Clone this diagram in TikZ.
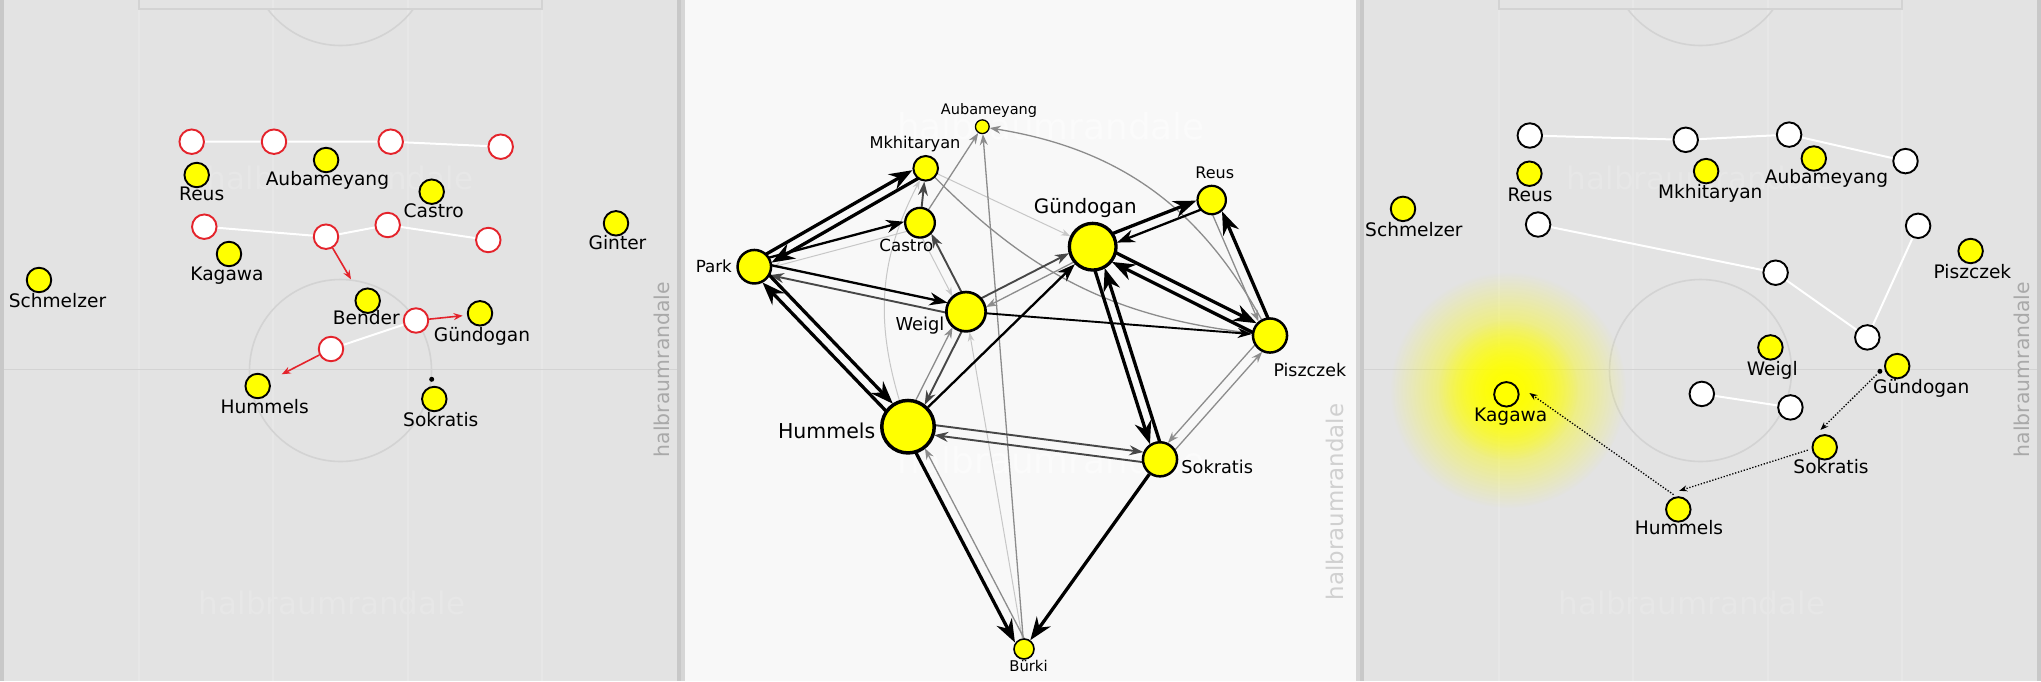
\documentclass[tikz,border=0pt]{standalone}
\usepackage{fontspec}
\setmainfont{DejaVu Sans}
\usetikzlibrary{arrows.meta,calc,fadings}

\definecolor{pitch}{HTML}{E3E3E3}
\definecolor{pitchhi}{HTML}{E7E7E7}
\definecolor{paper}{HTML}{F8F8F8}
\definecolor{rim}{HTML}{C8C8C8}
\definecolor{rimlight}{HTML}{D6D6D6}
\definecolor{chalk}{HTML}{D3D3D3}
\definecolor{stamp}{HTML}{A9A9A9}
\definecolor{stamplight}{HTML}{D0D0D0}
\definecolor{foered}{HTML}{E4232B}
\definecolor{dotyellow}{HTML}{FFFF00}

\newcommand\fsz[1]{\fontsize{#1}{#1}\selectfont}

\pgfdeclarelayer{ground}
\pgfdeclarelayer{links}
\pgfsetlayers{ground,links,main}

\tikzfading[name=glowfade, inner color=transparent!0, outer color=transparent!100]

\tikzset{
  dot/.style={circle, draw=black, fill=dotyellow, line width=1.9pt, minimum size=24.5pt, inner sep=0pt},
  foe/.style={circle, draw=foered, fill=white, line width=1.9pt, minimum size=24.5pt, inner sep=0pt},
  foeb/.style={foe, draw=black},
  ball/.style={circle, fill=black, minimum size=5pt, inner sep=0pt},
  tag/.style={inner sep=0pt, font=\fsz{18.6}, text height=0.73em, text depth=0pt},
  wmark/.style={font=\fsz{31}, text=pitchhi, inner sep=0pt},
  vmark/.style={rotate=90, font=\fsz{20.4}, text=stamp, inner sep=0pt},
  chain/.style={white, line width=2pt},
  push/.style={foered, line width=1.6pt, -{Stealth[length=9pt,width=7pt]}},
  run/.style={black, line width=1.3pt, dash pattern=on 1.3pt off 1.7pt, -{Stealth[length=8pt,width=6pt]}},
  hub/.style={circle, draw=black, fill=dotyellow, inner sep=0pt},
  pa/.style={line width=3.3pt, black, -{Stealth[length=23pt,width=17pt]}},
  pb/.style={line width=2.3pt, black, -{Stealth[length=18pt,width=13pt]}},
  pc/.style={line width=1.9pt, black!72, -{Stealth[length=14pt,width=10pt]}},
  pd/.style={line width=1.3pt, black!45, -{Stealth[length=11pt,width=8pt]}},
  pe/.style={line width=1pt, black!22, -{Stealth[length=9pt,width=6.5pt]}},
}

%% pass map connectors, offset to the left or to the right of travel
\newcommand\pass[4]{\draw[#1, shorten >=#4pt] ($(#2)!5pt!90:(#3)$) -- ($(#3)!5pt!-90:(#2)$);}
\newcommand\passr[4]{\draw[#1, shorten >=#4pt] ($(#2)!5pt!-90:(#3)$) -- ($(#3)!5pt!90:(#2)$);}

%% one pitch half, shifted
\newcommand\pitch[2]{%
  \begin{scope}[xshift=#1pt]
    \fill[pitch] (0,0) rectangle (681,-681);
    \foreach \sx in {139,273,408,542}
      \draw[pitchhi, line width=1.2pt] (\sx,0) -- (\sx,-681);
    \draw[chalk, line width=1.6pt] (4,-369.5) -- (677,-369.5);
    \draw[chalk, line width=1.6pt] (340.5,-370.5) circle (91);
    \draw[chalk, line width=1.6pt] (139,0) -- (139,-8.7) -- (542,-8.7) -- (542,0);
    \begin{scope}
      \clip (0,-8.7) rectangle (681,-60);
      \draw[chalk, line width=1.6pt] (340.5,45.5) circle (91);
    \end{scope}
    \node[wmark] (#2Wm1) at (340,-178) {halbraumrandale};
    \node[wmark] (#2Wm2) at (332,-603) {halbraumrandale};
    \node[vmark] (#2Wm3) at (662,-369.5) {halbraumrandale};
    \fill[rim] (0,0) rectangle (4,-681);
    \fill[rim] (677,0) rectangle (681,-681);
  \end{scope}}

\begin{document}
\begin{tikzpicture}[x=1pt, y=1pt]
  \useasboundingbox (0,0) rectangle (2041,-681);

  %% Draw the pitches and the paper
  \begin{pgfonlayer}{ground}
    \pitch{0}{a}
    \fill[rimlight] (681,0) rectangle (1360,-681);
    \fill[paper] (685,0) rectangle (1356,-681);
    \node[font=\fsz{35.8}, text=white!40!paper, inner sep=0pt] (bWm1) at (1051,-126) {halbraumrandale};
    \node[font=\fsz{35.8}, text=white!40!paper, inner sep=0pt] (bWm2) at (1051,-460) {halbraumrandale};
    \node[vmark, text=stamplight, font=\fsz{22.9}] (bWm3) at (1334.8,-502) {halbraumrandale};
    \pitch{1360}{c}
    \fill[dotyellow, path fading=glowfade] (1508,-390) circle (118);
    \fill[dotyellow, path fading=glowfade] (1508,-390) circle (70);
  \end{pgfonlayer}

  %% Left: the opponents
  \node[foe] (aF1) at (191.7,-141.7) {};
  \node[foe] (aF2) at (274,-141.7) {};
  \node[foe] (aF3) at (390.7,-141.7) {};
  \node[foe] (aF4) at (500.7,-146.7) {};
  \node[foe] (aF5) at (204.3,-226.7) {};
  \node[foe] (aF6) at (326,-236.7) {};
  \node[foe] (aF7) at (387.7,-225) {};
  \node[foe] (aF8) at (488.3,-240) {};
  \node[foe] (aF9) at (416,-320.5) {};
  \node[foe] (aF10) at (331,-349) {};
  %% Left: the players
  \node[dot] (aReu) at (196.7,-175) {};
  \node[dot] (aAub) at (326.1,-160) {};
  \node[dot] (aCas) at (431.7,-191.7) {};
  \node[dot] (aGin) at (616,-223.3) {};
  \node[dot] (aKag) at (229,-254) {};
  \node[dot] (aSch) at (39,-280) {};
  \node[dot] (aBen) at (367.7,-300.7) {};
  \node[dot] (aGun) at (480,-313.3) {};
  \node[dot] (aHum) at (257.7,-386) {};
  \node[dot] (aSok) at (434.3,-399) {};
  \node[ball] (aBall) at (431.7,-379.3) {};
  \node[tag] (aReuT) at (201.7,-196.7) {Reus};
  \node[tag] (aAubT) at (327.4,-182) {Aubameyang};
  \node[tag] (aCasT) at (433.7,-214.3) {Castro};
  \node[tag] (aGinT) at (617.5,-245.7) {Ginter};
  \node[tag] (aKagT) at (227,-276.7) {Kagawa};
  \node[tag] (aSchT) at (57.5,-304) {Schmelzer};
  \node[tag] (aBenT) at (366.3,-321) {Bender};
  \node[tag] (aGunT) at (482,-338.3) {Gündogan};
  \node[tag] (aHumT) at (264.7,-410) {Hummels};
  \node[tag] (aSokT) at (440.8,-422.7) {Sokratis};
  \coordinate (aP1) at (351,-279.3);
  \coordinate (aP2) at (462.7,-315.7);
  \coordinate (aP3) at (281.7,-374.3);

  %% Middle: the pass map
  \node[hub, minimum size=13.7pt, line width=1.3pt] (bAub) at (982.3,-126.7) {};
  \node[hub, minimum size=24.6pt, line width=2pt] (bMkh) at (925.7,-168.3) {};
  \node[hub, minimum size=29.7pt, line width=2.3pt] (bCas) at (920,-222.7) {};
  \node[hub, minimum size=33.5pt, line width=2.5pt] (bPar) at (754.3,-266.7) {};
  \node[hub, minimum size=39.3pt, line width=2.7pt] (bWei) at (966,-311.7) {};
  \node[hub, minimum size=46.7pt, line width=3.3pt] (bGun) at (1092.7,-246.7) {};
  \node[hub, minimum size=28.4pt, line width=2.2pt] (bReu) at (1211.7,-200) {};
  \node[hub, minimum size=34.1pt, line width=2.5pt] (bPis) at (1270,-335.5) {};
  \node[hub, minimum size=34.1pt, line width=2.5pt] (bSok) at (1160,-459.3) {};
  \node[hub, minimum size=52.5pt, line width=3.5pt] (bHum) at (908,-426.7) {};
  \node[hub, minimum size=20pt, line width=1.6pt] (bBur) at (1024,-649) {};
  \node[tag, font=\fsz{14.5}] (bAubT) at (989,-110.7) {Aubameyang};
  \node[tag, font=\fsz{16.2}] (bMkhT) at (915,-145) {Mkhitaryan};
  \node[tag, font=\fsz{16.7}] (bCasT) at (906.3,-247.7) {Castro};
  \node[tag, font=\fsz{16.7}] (bParT) at (713.8,-269.3) {Park};
  \node[tag, font=\fsz{17.8}] (bWeiT) at (920,-326.7) {Weigl};
  \node[tag, font=\fsz{19.9}] (bGunT) at (1085.3,-210) {Gündogan};
  \node[tag, font=\fsz{16}] (bReuT) at (1214.7,-175) {Reus};
  \node[tag, font=\fsz{17.4}] (bPisT) at (1309.8,-372.7) {Piszczek};
  \node[tag, font=\fsz{17.7}] (bSokT) at (1217.2,-470) {Sokratis};
  \node[tag, font=\fsz{20.5}] (bHumT) at (826.7,-435) {Hummels};
  \node[tag, font=\fsz{14.8}] (bBurT) at (1028.5,-668.3) {Bürki};

  %% Right: the opponents
  \node[foeb] (cF1) at (1529.8,-135.5) {};
  \node[foeb] (cF2) at (1685.7,-139.8) {};
  \node[foeb] (cF3) at (1789.1,-134.6) {};
  \node[foeb] (cF4) at (1905.5,-161.1) {};
  \node[foeb] (cF5) at (1538.1,-224.5) {};
  \node[foeb] (cF6) at (1775.6,-272.7) {};
  \node[foeb] (cF7) at (1918.1,-225.8) {};
  \node[foeb] (cF8) at (1867.3,-337.4) {};
  \node[foeb] (cF9) at (1701.8,-393.9) {};
  \node[foeb] (cF10) at (1790.4,-407.4) {};
  %% Right: the players
  \node[dot] (cSch) at (1403,-208.9) {};
  \node[dot] (cReu) at (1529.4,-173.7) {};
  \node[dot] (cMkh) at (1706.1,-171.1) {};
  \node[dot] (cAub) at (1813.8,-158.5) {};
  \node[dot] (cPis) at (1970.6,-251) {};
  \node[dot] (cWei) at (1770.4,-347.4) {};
  \node[dot] (cGun) at (1897.2,-366.1) {};
  \node[dot] (cKag) at (1506.4,-394.3) {};
  \node[dot] (cSok) at (1824.7,-447.3) {};
  \node[dot] (cHum) at (1678.3,-509.4) {};
  \node[ball] (cBall) at (1879.9,-371.3) {};
  \node[tag] (cSchT) at (1413.9,-233.2) {Schmelzer};
  \node[tag] (cReuT) at (1530,-198) {Reus};
  \node[tag] (cMkhT) at (1710.3,-195) {Mkhitaryan};
  \node[tag] (cAubT) at (1826.4,-179.8) {Aubameyang};
  \node[tag] (cPisT) at (1972.4,-274.5) {Piszczek};
  \node[tag] (cWeiT) at (1772.2,-371.8) {Weigl};
  \node[tag] (cGunT) at (1921.3,-390) {Gündogan};
  \node[tag] (cKagT) at (1510.7,-417.8) {Kagawa};
  \node[tag] (cSokT) at (1831,-469.5) {Sokratis};
  \node[tag] (cHumT) at (1679,-530.7) {Hummels};
  \coordinate (cR1) at (1820.4,-430);
  \coordinate (cR2) at (1679.2,-490.8);
  \coordinate (cR3) at (1529.4,-393);

  %% Draw the edges
  \begin{pgfonlayer}{links}
    % left
    \draw[chain] (aF1) -- (aF2) -- (aF3) -- (aF4);
    \draw[chain] (aF5) -- (aF6) -- (aF7) -- (aF8);
    \draw[chain] (aF10) -- (aF9);
    \draw[push] (aF6) -- (aP1);
    \draw[push] (aF9) -- (aP2);
    \draw[push] (aF10) -- (aP3);
    % middle, light ones first
    \pass{pe}{bCas}{bPar}{17}
    \passr{pe}{bCas}{bWei}{20}
    \draw[pe] (bMkh) -- (bGun);
    \draw[pe] (bHum) to[bend left=22] (bMkh);
    \draw[pe] (bBur) -- (bWei);
    \pass{pd}{bHum}{bWei}{20}
    \pass{pd}{bGun}{bWei}{20}
    \passr{pd}{bBur}{bHum}{27}
    \passr{pd}{bReu}{bPis}{17.5}
    \passr{pd}{bSok}{bPis}{17.5}
    \passr{pd}{bPis}{bSok}{17.5}
    \draw[pd] (bCas) -- (bAub);
    \draw[pd] (bBur) -- (bAub);
    \draw[pd] (bPis) to[bend right=26] (bAub);
    \draw[pd] (bMkh) to[bend right=19] (bPis);
    \pass{pc}{bWei}{bHum}{27}
    \pass{pc}{bWei}{bGun}{24}
    \pass{pc}{bHum}{bSok}{17.5}
    \pass{pc}{bSok}{bHum}{27}
    \pass{pc}{bWei}{bPar}{17}
    \passr{pc}{bWei}{bCas}{15}
    \draw[pc] (bCas) -- (bMkh);
    \draw[pc, black] (bWei) -- (bPis);
    \pass{pb}{bPar}{bCas}{15}
    \pass{pb}{bPar}{bWei}{20}
    \draw[pb] (bHum) -- (bGun);
    \pass{pb}{bReu}{bGun}{24}
    \pass{pa}{bPar}{bMkh}{12.5}
    \pass{pa}{bMkh}{bPar}{17}
    \pass{pa}{bPar}{bHum}{27}
    \pass{pa}{bHum}{bPar}{17}
    \pass{pa}{bGun}{bReu}{14.5}
    \pass{pa}{bGun}{bPis}{17.5}
    \pass{pa}{bPis}{bGun}{24}
    \passr{pa}{bPis}{bReu}{14.5}
    \passr{pa}{bGun}{bSok}{17.5}
    \passr{pa}{bSok}{bGun}{24}
    \passr{pa}{bHum}{bBur}{10}
    \draw[pa] (bSok) -- (bBur);
    % right
    \draw[chain] (cF1) -- (cF2) -- (cF3) -- (cF4);
    \draw[chain] (cF5) -- (cF6) -- (cF8) -- (cF7);
    \draw[chain] (cF9) -- (cF10);
    \draw[run, shorten <=2pt] (cBall) -- (cR1);
    \draw[run, shorten <=4pt] (cSok.187) -- (cR2);
    \draw[run, shorten <=3pt] (cHum.100) -- (cR3);
  \end{pgfonlayer}
\end{tikzpicture}
\end{document}
